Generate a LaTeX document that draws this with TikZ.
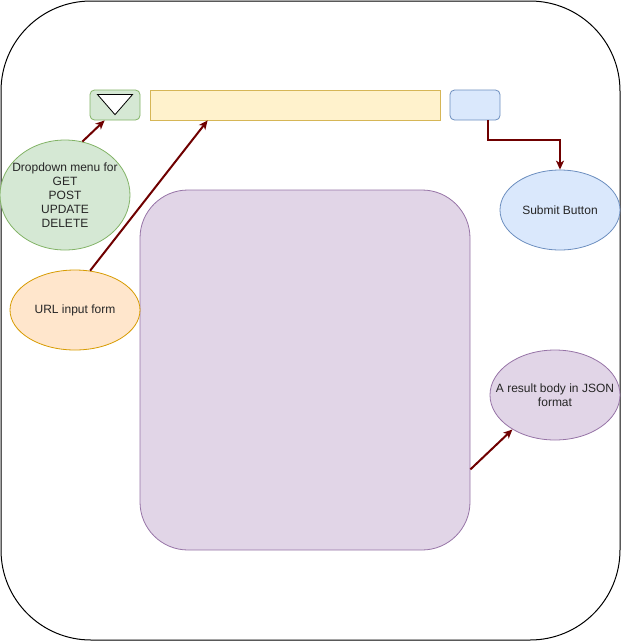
\documentclass[tikz,border=0pt]{standalone}
\usepackage{fontspec}
\setmainfont{Liberation Sans}
\usetikzlibrary{shapes.geometric,arrows.meta,calc}
\definecolor{gfill}{HTML}{D5E8D4}
\definecolor{gline}{HTML}{82B366}
\definecolor{yfill}{HTML}{FFF2CC}
\definecolor{yline}{HTML}{D6B656}
\definecolor{bfill}{HTML}{DAE8FC}
\definecolor{bline}{HTML}{6C8EBF}
\definecolor{ofill}{HTML}{FFE6CC}
\definecolor{oline}{HTML}{D79B00}
\definecolor{pfill}{HTML}{E1D5E7}
\definecolor{pline}{HTML}{9673A6}
\definecolor{arrred}{HTML}{6F0000}
\tikzset{
  txt/.style={font=\fontsize{12}{14}\selectfont, text=black!85},
  ell/.style={ellipse, draw, line width=0.8pt, inner sep=0pt},
  smallbox/.style={rectangle, draw, line width=0.8pt, rounded corners=4.5, inner sep=0pt},
  conn/.style={draw=arrred, line width=2pt, -{Stealth[length=9, width=8, inset=2.5]}}
}
\begin{document}
\begin{tikzpicture}[x=1pt,y=-1pt]
\useasboundingbox (0,0) rectangle (621,641);
% outer frame
\node[draw=black, line width=1pt, rounded corners=90, minimum width=619, minimum height=639, inner sep=0pt] (frame) at (310.5,320.5) {};
% top bar
\node[smallbox, fill=gfill, draw=gline, minimum width=50, minimum height=30] (dd) at (115,105) {};
\node[draw=black, fill=white, line width=0.8pt, isosceles triangle, shape border rotate=-90, isosceles triangle apex angle=82, minimum width=35, minimum height=20, inner sep=0pt, anchor=center] (tri) at (115,102.5) {};
\node[rectangle, draw=yline, fill=yfill, line width=0.8pt, minimum width=290, minimum height=30, inner sep=0pt] (url) at (295,105) {};
\node[smallbox, fill=bfill, draw=bline, minimum width=50, minimum height=30] (sb) at (475,105) {};
% big result area
\node[rectangle, draw=pline, fill=pfill, line width=0.8pt, rounded corners=48, minimum width=330, minimum height=360, inner sep=0pt] (res) at (305,370) {};
% ellipses
\node[ell, fill=gfill, draw=gline, minimum width=130, minimum height=110,
  label={[txt, align=center]center:Dropdown menu for\\GET\\POST\\UPDATE\\DELETE}] (dde) at (65,195) {};
\node[ell, fill=ofill, draw=oline, minimum width=130, minimum height=80,
  label={[txt]center:URL input form}] (urle) at (75,310) {};
\node[ell, fill=bfill, draw=bline, minimum width=120, minimum height=80,
  label={[txt]center:Submit Button}] (sbe) at (560,210) {};
\node[ell, fill=pfill, draw=pline, minimum width=130, minimum height=90,
  label={[txt, align=center]center:A result body in JSON\\format}] (jse) at (555,395) {};
% connectors
\draw[conn] (dde.72) -- (dd.236);
\draw[conn] (urle.69.4) -- (url.190);
\draw[conn] ([xshift=13]sb.south) -- ++(0,20) -| (sbe.north);
\draw[conn] (res.-31.2) -- (jse.219);
\end{tikzpicture}
\end{document}
